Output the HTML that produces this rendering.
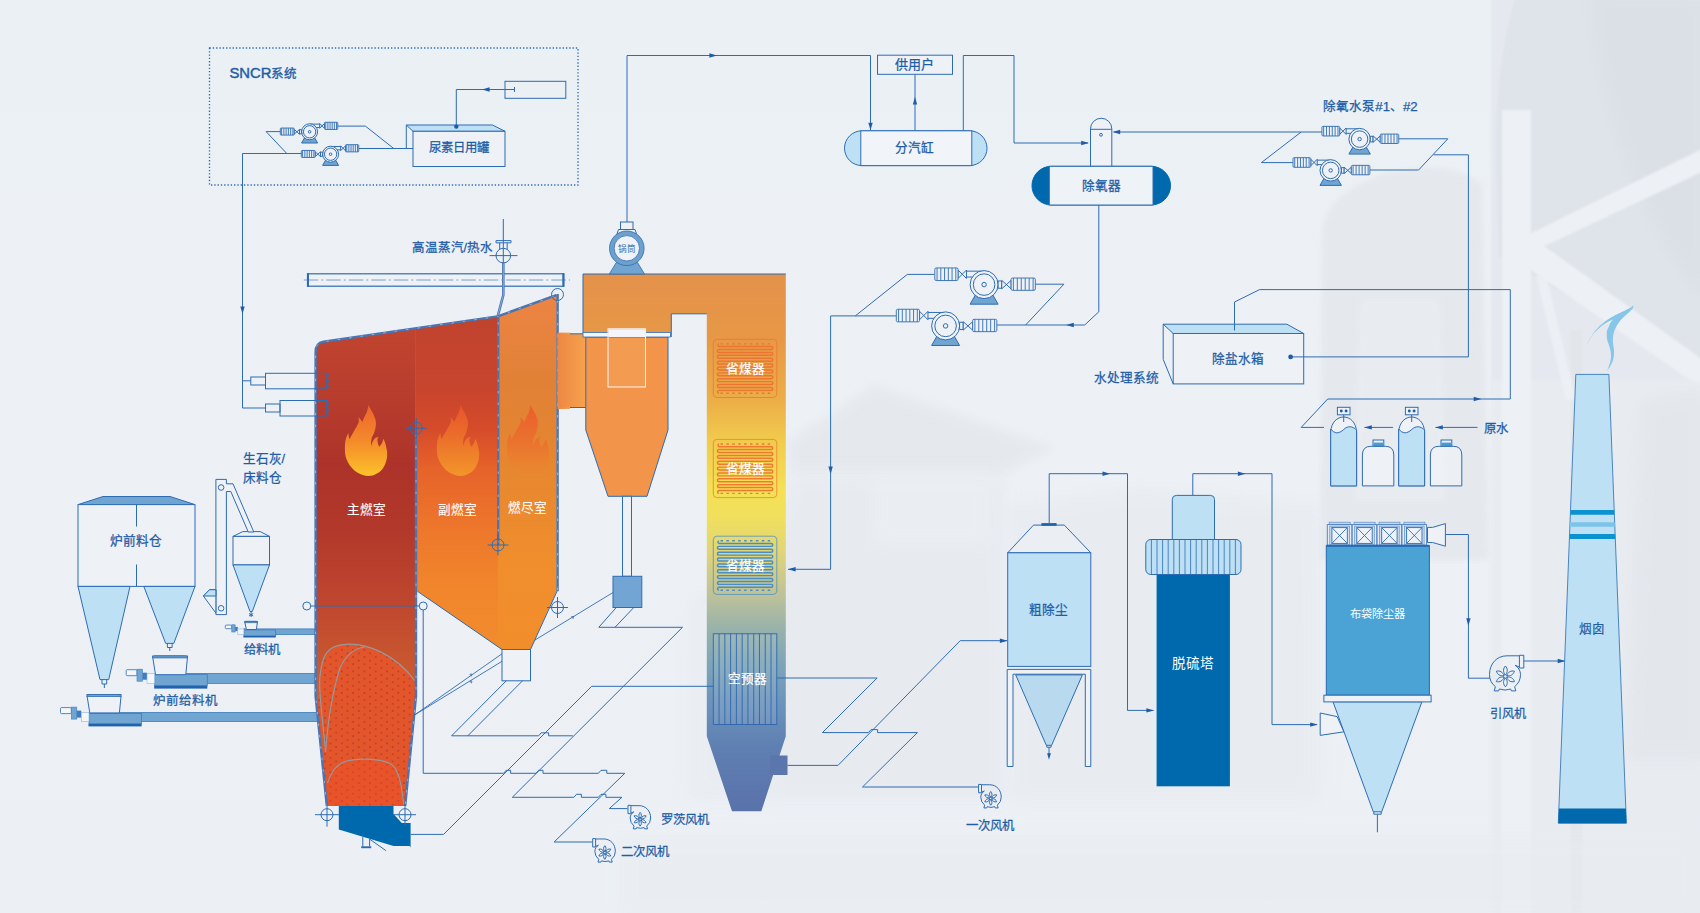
<!DOCTYPE html>
<html lang="zh-CN"><head><meta charset="utf-8"><title>CFB boiler process flow</title>
<style>
html,body{margin:0;padding:0;background:#ecf0f5;}
body{width:1700px;height:913px;overflow:hidden;position:relative;font-family:"Liberation Sans",sans-serif;}
svg{position:absolute;left:0;top:0;display:block;}
svg text{font-family:"Liberation Sans",sans-serif;}
.ln{fill:none;stroke:#2e6cb2;stroke-width:1;}
.ns *{vector-effect:non-scaling-stroke;}
</style></head><body>
<svg width="1700" height="913" viewBox="0 0 1700 913">
<defs>
<linearGradient id="gcol" gradientUnits="userSpaceOnUse" x1="0" y1="274" x2="0" y2="812">
<stop offset="0" stop-color="#e4914a"/><stop offset="0.12" stop-color="#e79846"/>
<stop offset="0.235" stop-color="#ecae48"/><stop offset="0.31" stop-color="#f1cb4d"/>
<stop offset="0.40" stop-color="#f4e055"/><stop offset="0.45" stop-color="#f1e05c"/>
<stop offset="0.52" stop-color="#dfd47a"/><stop offset="0.60" stop-color="#bcc19a"/>
<stop offset="0.66" stop-color="#97b2ab"/><stop offset="0.72" stop-color="#7fa6b8"/>
<stop offset="0.80" stop-color="#6b93bc"/><stop offset="0.88" stop-color="#5f7fb2"/>
<stop offset="1" stop-color="#5a72aa"/></linearGradient>
<linearGradient id="gmain" gradientUnits="userSpaceOnUse" x1="0" y1="320" x2="0" y2="700">
<stop offset="0" stop-color="#c1452f"/><stop offset="0.2" stop-color="#b93d2d"/>
<stop offset="0.38" stop-color="#ad332a"/><stop offset="0.55" stop-color="#b2382b"/>
<stop offset="0.74" stop-color="#bf462e"/><stop offset="0.9" stop-color="#c85730"/><stop offset="1" stop-color="#cd6031"/></linearGradient>
<linearGradient id="gsec" gradientUnits="userSpaceOnUse" x1="0" y1="316" x2="0" y2="650">
<stop offset="0" stop-color="#c0432e"/><stop offset="0.22" stop-color="#c8442d"/>
<stop offset="0.34" stop-color="#d64c2a"/><stop offset="0.46" stop-color="#e6632a"/>
<stop offset="0.62" stop-color="#ed752b"/><stop offset="0.8" stop-color="#f1852c"/>
<stop offset="1" stop-color="#f28c2c"/></linearGradient>
<linearGradient id="gburn" gradientUnits="userSpaceOnUse" x1="0" y1="295" x2="0" y2="650">
<stop offset="0" stop-color="#ed8444"/><stop offset="0.25" stop-color="#e08136"/>
<stop offset="0.5" stop-color="#e7872f"/><stop offset="0.75" stop-color="#f08e2d"/>
<stop offset="1" stop-color="#f28d2b"/></linearGradient>
<linearGradient id="gconn" x1="0" y1="0" x2="1" y2="0">
<stop offset="0" stop-color="#ee8743"/><stop offset="1" stop-color="#f6a24e"/></linearGradient>
<linearGradient id="gfl1" x1="0" y1="0" x2="0" y2="1">
<stop offset="0" stop-color="#ee642c"/><stop offset="0.5" stop-color="#f4892b"/><stop offset="1" stop-color="#fcc22a"/></linearGradient>
<linearGradient id="gfl2" x1="0" y1="0" x2="0" y2="1">
<stop offset="0" stop-color="#ee572b"/><stop offset="0.5" stop-color="#f07a2b"/><stop offset="1" stop-color="#f5a22b"/></linearGradient>
<linearGradient id="gfl3" x1="0" y1="0" x2="0" y2="1">
<stop offset="0" stop-color="#ee552b" stop-opacity="1"/><stop offset="0.55" stop-color="#ee682b" stop-opacity=".7"/><stop offset="1" stop-color="#f0862d" stop-opacity=".2"/></linearGradient>
<pattern id="dots" width="11.3" height="7.2" patternUnits="userSpaceOnUse">
<rect width="11.3" height="7.2" fill="#e3562c"/><circle cx="2.8" cy="1.8" r="1.0" fill="#ba3b29"/><circle cx="8.45" cy="5.4" r="1.0" fill="#ba3b29"/></pattern>
<g id="pump" class="ns" fill="none" stroke="#2e6cb2" stroke-width="1"><polygon points="-6,7 6,7 10,14 -10,14" fill="#6fa5d0"/><path d="M-12.6,-9.6 H0 M-12.6,-5.4 H-8"/><path d="M-18.6,-10.4 L-12.6,-4.4 V-10.4 L-18.6,-4.4 Z" fill="#eef2f7"/><rect x="-35.20" y="-11.90" width="16.60" height="9.00" rx="1" fill="#eef2f7" stroke-width=".9"/><path d="M-33.60,-11.90 V-2.90 M-30.92,-11.90 V-2.90 M-28.24,-11.90 V-2.90 M-25.56,-11.90 V-2.90 M-22.88,-11.90 V-2.90 M-20.20,-11.90 V-2.90 " stroke-width=".9"/><circle r="10" fill="#eef2f7"/><circle r="7.7"/><circle r="1.6"/><rect x="10" y="-2.6" width="2.6" height="5.2" fill="#eef2f7"/><path d="M12.6,-3 L19.3,3 V-3 L12.6,3 Z" fill="#eef2f7"/><rect x="19.30" y="-4.70" width="17.30" height="8.80" rx="1" fill="#eef2f7" stroke-width=".9"/><path d="M20.90,-4.70 V4.10 M23.72,-4.70 V4.10 M26.54,-4.70 V4.10 M29.36,-4.70 V4.10 M32.18,-4.70 V4.10 M35.00,-4.70 V4.10 " stroke-width=".9"/></g>
<g id="fan" class="ns" fill="none" stroke="#2e6cb2" stroke-width="1"><path d="M14.4,-18.7 H2 C-8.5,-18.7 -15.5,-10.5 -15.5,0 A15.5,15.5 0 0 0 -9.6,12.2 L-10.8,16.4 H-6.4 L-5.6,14.5 A15.5,15.5 0 0 0 5.6,14.5 L6.4,16.4 H10.8 L9.6,12.2 A15.5,15.5 0 0 0 15.5,0 C15.5,-4 13,-7.6 10.1,-9.2 L14.4,-7.5"/><rect x="14.4" y="-19.2" width="4.4" height="12.7" fill="#eef2f7"/><path transform="translate(0.4,1.9) rotate(0)" d="M0,-1.6 C-2.7,-4.5 -2.3,-8 0,-10.4 C2.3,-8 2.7,-4.5 0,-1.6Z"/><path transform="translate(0.4,1.9) rotate(60)" d="M0,-1.6 C-2.7,-4.5 -2.3,-8 0,-10.4 C2.3,-8 2.7,-4.5 0,-1.6Z"/><path transform="translate(0.4,1.9) rotate(120)" d="M0,-1.6 C-2.7,-4.5 -2.3,-8 0,-10.4 C2.3,-8 2.7,-4.5 0,-1.6Z"/><path transform="translate(0.4,1.9) rotate(180)" d="M0,-1.6 C-2.7,-4.5 -2.3,-8 0,-10.4 C2.3,-8 2.7,-4.5 0,-1.6Z"/><path transform="translate(0.4,1.9) rotate(240)" d="M0,-1.6 C-2.7,-4.5 -2.3,-8 0,-10.4 C2.3,-8 2.7,-4.5 0,-1.6Z"/><path transform="translate(0.4,1.9) rotate(300)" d="M0,-1.6 C-2.7,-4.5 -2.3,-8 0,-10.4 C2.3,-8 2.7,-4.5 0,-1.6Z"/><circle cx="0.4" cy="1.9" r="1.8" fill="#eef2f7"/></g>
</defs>
<defs><filter id="bl8" x="-20%" y="-20%" width="140%" height="140%"><feGaussianBlur stdDeviation="8"/></filter><filter id="bl3" x="-20%" y="-20%" width="140%" height="140%"><feGaussianBlur stdDeviation="2.5"/></filter><filter id="bl1" x="-20%" y="-20%" width="140%" height="140%"><feGaussianBlur stdDeviation="1.2"/></filter><linearGradient id="gbg" x1="0" y1="0" x2="0" y2="1"><stop offset="0" stop-color="#ebf0f5"/><stop offset="0.5" stop-color="#edf1f6"/><stop offset="1" stop-color="#ecf0f5"/></linearGradient></defs>
<rect width="1700" height="913" fill="url(#gbg)"/>
<g id="bgphoto">
<rect x="1491" y="-5" width="215" height="400" fill="#e5e9ef" filter="url(#bl1)"/>
<rect x="1491" y="380" width="215" height="540" fill="#e8ecf1" filter="url(#bl3)"/>
<path d="M1516,-5 C1502,40 1495,100 1496,160 C1497,200 1498,235 1499,257 L1706,372 L1706,-5 Z" fill="#dfe4ea" filter="url(#bl1)"/>
<path d="M1590,-5 C1600,120 1650,240 1706,300 L1706,-5 Z" fill="#d8dde4" opacity=".55" filter="url(#bl8)"/>
<path d="M1706,147 L1706,170 L1528,254 L1519,239 Z" fill="#edf0f4" filter="url(#bl1)"/>
<path d="M1528,248 L1540,243 L1706,362 L1706,384 L1690,380 L1528,268 Z" fill="#edf0f4" filter="url(#bl1)"/>
<rect x="1502" y="110" width="29" height="820" fill="#edf1f5" filter="url(#bl1)"/>
<rect x="1571" y="330" width="11" height="600" fill="#e1e5ea" opacity=".7" filter="url(#bl1)"/>
<path d="M1536,275 L1546,275 L1576,400 L1566,400 Z" fill="#eef1f5" opacity=".8" filter="url(#bl1)"/>
<path d="M1640,400 L1706,390 L1706,760 L1625,760 Z" fill="#e2e6eb" opacity=".8" filter="url(#bl8)"/>
<path d="M1322,230 C1330,170 1450,150 1482,185 L1489,560 L1320,560 Z" fill="#e4e8ed" opacity=".85" filter="url(#bl3)"/>
<path d="M1360,300 L1440,300 L1445,500 L1355,500 Z" fill="#e9edf2" opacity=".9" filter="url(#bl3)"/>
<filter id="bl5" x="-20%" y="-20%" width="140%" height="140%"><feGaussianBlur stdDeviation="5"/></filter>
<path d="M786,442 L874,385 L1056,448 L1004,474 L790,474 Z" fill="#e2e6eb" opacity=".65" filter="url(#bl5)"/>
<path d="M792,474 L1004,474 L1004,800 L760,800 L760,560 Z" fill="#e4e8ed" opacity=".6" filter="url(#bl8)"/>
<path d="M872,476 L990,476 L990,545 L872,545 Z" fill="#eef1f5" opacity=".5" filter="url(#bl8)"/>
<path d="M1010,505 L1140,488 L1320,505 L1320,800 L1010,800 Z" fill="#e5e9ee" opacity=".55" filter="url(#bl8)"/>
<path d="M690,600 L760,560 L760,800 L690,800 Z" fill="#e6eaef" opacity=".5" filter="url(#bl8)"/>
<rect x="620" y="835" width="1080" height="85" fill="#e8ecf0" opacity=".55" filter="url(#bl8)"/>
</g>
<g id="sncr">
<rect x="209.5" y="48" width="368.5" height="137" fill="none" stroke="#2e6cb2" stroke-width="1.35" stroke-dasharray="1.35 1.95"/>
<rect x="505" y="81.3" width="60.8" height="17" fill="none" stroke="#2e6cb2"/>
<path class="ln" d="M514.5,89.5 H456.3 V126.3 M514.5,87 V92"/>
<polygon points="482.0,89.5 489.6,87.3 489.6,91.7" fill="#1f5da6"/>
<polygon points="406.3,125 492.5,125 505,131.3 413,131.3" fill="#bde0f5" stroke="#2e6cb2"/>
<rect x="413" y="131.3" width="92" height="35.2" fill="#eef2f7" stroke="#2e6cb2"/>
<path class="ln" d="M406.3,125 V148.8"/>
<circle cx="456.3" cy="126.6" r="2.2" fill="#1f5da6"/>
<path class="ln" d="M281,131.6 H266.1 L286.8,153.5 M242.5,153.5 H302 M338,126.1 H365.4 L394.1,148.8 M359,148.5 H413"/>
<use href="#pump" transform="translate(309.6,131.8) scale(-0.8,0.8)"/>
<use href="#pump" transform="translate(330.6,154.2) scale(-0.8,0.8)"/>
<path class="ln" d="M242.5,153.5 V408 H265.5 M242.5,380.8 H250.8"/>
<polygon points="242.5,314.0 240.3,306.4 244.7,306.4" fill="#1f5da6"/>
</g>
<g id="silo">
<polygon points="78,504.6 103,496.5 170,496.5 195,504.6" fill="#6fa5d0" stroke="#2e6cb2"/>
<rect x="78" y="504.6" width="117" height="81.8" fill="#eef2f7" stroke="#2e6cb2"/>
<path class="ln" d="M136.5,504.6 V526.5 M136.5,564.5 V586.4"/>
<polygon points="78,586.4 130,586.4 108.7,679.6 100,679.6" fill="#bde0f5" stroke="#2e6cb2"/>
<polygon points="143.8,586.4 195,586.4 173.8,643.4 165.7,643.4" fill="#bde0f5" stroke="#2e6cb2"/>
<path class="ln" d="M102,679.6 V684 H106.7 V679.6 M104.35,684 V688 M167.4,643.4 V647.5 H172.1 V643.4 M169.75,647.5 V651"/>
</g>
<g id="elevator">
<polygon points="233,536.4 242.8,531.6 260.3,531.6 269.5,536.4" fill="#eef2f7" stroke="#2e6cb2"/>
<rect x="233" y="536.4" width="36.5" height="28.5" fill="#eef2f7" stroke="#2e6cb2"/>
<polygon points="233,564.9 269.5,564.9 252.3,611.5 250,611.5" fill="#bde0f5" stroke="#2e6cb2"/>
<path class="ln" d="M251.1,611.5 V617 M249,613.5 L253.2,616 M253.2,613.5 L249,616"/>
<path d="M215.9,479.4 H226.4 V483.8 H233 L253.8,532 H248.3 L230.8,491.5 H226.4 V614.6 H215.9 Z" fill="#eef2f7" stroke="#2e6cb2"/>
<circle cx="221.1" cy="487.5" r="2.8" fill="#eef2f7" stroke="#2e6cb2"/><circle cx="221.1" cy="608.3" r="2.8" fill="#eef2f7" stroke="#2e6cb2"/>
<polygon points="215.9,589.7 209.5,589.7 203.4,596 215.9,613.1" fill="#eef2f7" stroke="#2e6cb2"/>
<polygon points="209.5,589.7 215.9,589.7 215.9,596 203.4,596" fill="#bde0f5" stroke="#2e6cb2"/>
</g>
<g id="feeders">
<rect x="154.7" y="673.4" width="160.3" height="10.1" fill="#6fa5d0" stroke="#3f7dbd" stroke-width=".8"/><rect x="154.7" y="674.4" width="52.6" height="11.3" fill="#6fa5d0" stroke="#3f7dbd" stroke-width=".8"/><rect x="154.2" y="685.7" width="53.1" height="2.9" fill="#1f62ad"/><polygon points="152.5,655.9 187.6,655.9 185.8,674.7 155.5,674.7" fill="#eef2f7" stroke="#2e6cb2"/><path d="M152.5,657.9 L154.5,655.9 H185.6 L187.6,657.9 Z" fill="#6fa5d0" stroke="#2e6cb2" stroke-width=".8"/><rect x="126.2" y="669.7" width="10.8" height="6.0" rx="1" fill="#f4f7fa" stroke="#2e6cb2" stroke-width=".8"/><rect x="137.0" y="669.2" width="5.5" height="12.0" fill="#6fa5d0" stroke="#3f7dbd" stroke-width=".6"/><rect x="142.5" y="672.7" width="4.5" height="7.0" fill="#3f7dbd"/><rect x="147.0" y="673.4" width="7.7" height="10.1" fill="#f4f7fa" stroke="#8fb3d8" stroke-width=".6"/>
<rect x="89.0" y="712.4" width="229.4" height="9.2" fill="#6fa5d0" stroke="#3f7dbd" stroke-width=".8"/><rect x="89.0" y="713.4" width="52.6" height="10.4" fill="#6fa5d0" stroke="#3f7dbd" stroke-width=".8"/><rect x="88.5" y="723.8" width="53.1" height="2.6" fill="#1f62ad"/><polygon points="86.8,694.5 121.2,694.5 119.4,712.9 89.8,712.9" fill="#eef2f7" stroke="#2e6cb2"/><path d="M86.8,696.5 L88.8,694.5 H119.2 L121.2,696.5 Z" fill="#6fa5d0" stroke="#2e6cb2" stroke-width=".8"/><rect x="60.5" y="707.6" width="10.8" height="6.0" rx="1" fill="#f4f7fa" stroke="#2e6cb2" stroke-width=".8"/><rect x="71.3" y="707.1" width="5.5" height="12.0" fill="#6fa5d0" stroke="#3f7dbd" stroke-width=".6"/><rect x="76.8" y="710.6" width="4.5" height="7.0" fill="#3f7dbd"/><rect x="81.3" y="712.4" width="7.7" height="9.2" fill="#f4f7fa" stroke="#8fb3d8" stroke-width=".6"/>
<rect x="243.9" y="628.9" width="71.1" height="5.7" fill="#6fa5d0" stroke="#3f7dbd" stroke-width=".8"/><rect x="243.9" y="629.9" width="31.8" height="6.0" fill="#6fa5d0" stroke="#3f7dbd" stroke-width=".8"/><rect x="243.4" y="635.9" width="32.3" height="1.6" fill="#1f62ad"/><polygon points="244.6,621.4 257.5,621.4 256.4,629.5 246.4,629.5" fill="#eef2f7" stroke="#2e6cb2"/><path d="M244.6,622.6 L245.8,621.4 H256.3 L257.5,622.6 Z" fill="#6fa5d0" stroke="#2e6cb2" stroke-width=".8"/><rect x="225.3" y="625.1" width="6.5" height="3.6" rx="1" fill="#f4f7fa" stroke="#2e6cb2" stroke-width=".8"/><rect x="231.8" y="624.8" width="3.3" height="7.2" fill="#6fa5d0" stroke="#3f7dbd" stroke-width=".6"/><rect x="235.1" y="626.9" width="2.7" height="4.2" fill="#3f7dbd"/><rect x="237.8" y="628.9" width="6.1" height="5.7" fill="#f4f7fa" stroke="#8fb3d8" stroke-width=".6"/>
</g>
<g id="furnace">
<path d="M316,352 Q316,343.2 324,341.6 L415.8,328.2 V696.3 L405.5,806 H327 L316,696.3 Z" fill="url(#gmain)"/>
<path d="M415.3,328.3 L498.3,316.2 V646.9 L417.5,591.3 H415.3 Z" fill="url(#gsec)"/>
<path d="M498,316.2 L556.8,295 V591.3 L530.5,649.5 H502 L498,646.7 Z" fill="url(#gburn)"/>
<path d="M319.5,692 C319.5,664 325,648 343,644.6 C366,641.5 396,655 415.4,681 V696.3 L405.5,806 H327 L316.8,700 Z" fill="url(#dots)"/>
<path d="M327.5,783 C331,772 336,765 344,762 C356,758 378,758 390,763.5 C398,768 401,780 403.8,805 L405.5,806 H327 Z" fill="#f04e29" opacity=".35"/>
<g fill="none" stroke="#969a9c" stroke-width="1.15">
<path d="M325.5,752 C323,720 318,690 320,676 C322,655 328,646 343,644.6 C366,641.5 396,655 415,681"/>
<path d="M325.5,752 C328,720 333,690 340,668 C346,655 354,648 365,647"/>
<path d="M327.5,783 C331,772 336,765 344,762 C356,758 378,758 390,763.5 C398,768 401,780 403.8,805"/>
</g>
<path d="M368.3,405.1 C370.5,410 373.5,413 374.4,416.7 C375.8,420 376.2,422.5 375.9,424.6 C375.6,428.5 374.8,431 373.9,433.4 C372.5,436 371.5,437.5 371.5,439.3 C370.8,442 370.9,444 371.3,446.2 C371.8,444 372.2,442.5 372.9,441.3 C373.8,439.5 374.5,438.6 375.4,437.9 C376.5,437.2 377.6,436.9 378.8,436.9 C377.8,437.8 377.2,439 377.4,440.3 C377.6,443 378.2,445 379.3,446.7 C381,445 382.8,442.5 383.3,438.8 C385,441.5 385.8,444.5 386.2,447.2 C386.9,449.5 387.2,451.8 387.2,454.1 C387.2,458.5 386.2,462.5 384.3,465.9 C382.5,469.5 379.8,472.2 376.4,473.8 C374,475.2 371.3,476 368.5,476 C364.5,476 361,474.8 357.7,472.8 C353.5,470.2 350,466.5 347.8,462 C346,458.5 344.9,454.5 344.9,450.2 C344.8,447 344.9,444 345.3,441.3 C346,438 347,435.2 348.3,432.9 C348.5,435.5 349,437.5 349.8,439.3 C350.5,437 351.5,435 352.7,433.4 C354,431 355.5,428.5 356.7,426.5 C357.5,425 358.2,423.8 358.6,422.6 C359,420.8 358.8,419 358.2,417.2 C360,418.5 361.5,420 362.4,422.1 C363.5,419 365,415.5 366.5,412.7 C367.5,410.5 368.2,408 368.3,405.1 Z" fill="url(#gfl1)"/>
<path d="M368.3,405.1 C370.5,410 373.5,413 374.4,416.7 C375.8,420 376.2,422.5 375.9,424.6 C375.6,428.5 374.8,431 373.9,433.4 C372.5,436 371.5,437.5 371.5,439.3 C370.8,442 370.9,444 371.3,446.2 C371.8,444 372.2,442.5 372.9,441.3 C373.8,439.5 374.5,438.6 375.4,437.9 C376.5,437.2 377.6,436.9 378.8,436.9 C377.8,437.8 377.2,439 377.4,440.3 C377.6,443 378.2,445 379.3,446.7 C381,445 382.8,442.5 383.3,438.8 C385,441.5 385.8,444.5 386.2,447.2 C386.9,449.5 387.2,451.8 387.2,454.1 C387.2,458.5 386.2,462.5 384.3,465.9 C382.5,469.5 379.8,472.2 376.4,473.8 C374,475.2 371.3,476 368.5,476 C364.5,476 361,474.8 357.7,472.8 C353.5,470.2 350,466.5 347.8,462 C346,458.5 344.9,454.5 344.9,450.2 C344.8,447 344.9,444 345.3,441.3 C346,438 347,435.2 348.3,432.9 C348.5,435.5 349,437.5 349.8,439.3 C350.5,437 351.5,435 352.7,433.4 C354,431 355.5,428.5 356.7,426.5 C357.5,425 358.2,423.8 358.6,422.6 C359,420.8 358.8,419 358.2,417.2 C360,418.5 361.5,420 362.4,422.1 C363.5,419 365,415.5 366.5,412.7 C367.5,410.5 368.2,408 368.3,405.1 Z" fill="url(#gfl2)" opacity=".8" transform="translate(92,0)"/>
<path d="M368.3,405.1 C370.5,410 373.5,413 374.4,416.7 C375.8,420 376.2,422.5 375.9,424.6 C375.6,428.5 374.8,431 373.9,433.4 C372.5,436 371.5,437.5 371.5,439.3 C370.8,442 370.9,444 371.3,446.2 C371.8,444 372.2,442.5 372.9,441.3 C373.8,439.5 374.5,438.6 375.4,437.9 C376.5,437.2 377.6,436.9 378.8,436.9 C377.8,437.8 377.2,439 377.4,440.3 C377.6,443 378.2,445 379.3,446.7 C381,445 382.8,442.5 383.3,438.8 C385,441.5 385.8,444.5 386.2,447.2 C386.9,449.5 387.2,451.8 387.2,454.1 C387.2,458.5 386.2,462.5 384.3,465.9 C382.5,469.5 379.8,472.2 376.4,473.8 C374,475.2 371.3,476 368.5,476 C364.5,476 361,474.8 357.7,472.8 C353.5,470.2 350,466.5 347.8,462 C346,458.5 344.9,454.5 344.9,450.2 C344.8,447 344.9,444 345.3,441.3 C346,438 347,435.2 348.3,432.9 C348.5,435.5 349,437.5 349.8,439.3 C350.5,437 351.5,435 352.7,433.4 C354,431 355.5,428.5 356.7,426.5 C357.5,425 358.2,423.8 358.6,422.6 C359,420.8 358.8,419 358.2,417.2 C360,418.5 361.5,420 362.4,422.1 C363.5,419 365,415.5 366.5,412.7 C367.5,410.5 368.2,408 368.3,405.1 Z" fill="url(#gfl3)" opacity=".85" transform="translate(162,0)"/>
<g fill="none" stroke="#4a74b2" stroke-width="2.4" stroke-linejoin="round">
<path d="M326.8,806 L315.6,696.3 V352 Q315.6,343.2 323.4,341.7 L497.6,316.4 L556.3,295.2"/>
<path d="M557.6,294 V591.3"/>
<path d="M416,428 V696.3 L405.2,806"/>
<path d="M498.2,316.2 V545"/>
</g>
<g fill="none" stroke="#b4c4e0" stroke-width=".75" stroke-dasharray="2.5 9">
<path d="M326.8,806 L315.6,696.3 V352 Q315.6,343.2 323.4,341.7 L497.6,316.4 L556.3,295.2"/>
<path d="M557.6,300 V591.3"/><path d="M416,434 V696.3 L405.2,806"/><path d="M498.2,322 V545"/>
</g>
<path class="ln" d="M417.5,591.3 L502,649.5 H530.5 L557,591.3" stroke-width=".9"/>
<rect x="502" y="649.5" width="28.5" height="31.3" fill="#eef2f7" stroke="#2e6cb2"/>
<path d="M338.8,805.9 H393.5 V814.1 L401.8,823 H410.6 V847.6 L409.6,845.9 H393.5 L338.8,829.4 Z" fill="#0068ac"/>
<path class="ln" d="M362.8,837 V846.5 M369.6,839 V846.5 M370,839.4 L385.9,850.6"/>
<rect x="361.2" y="846.3" width="10" height="1.9" fill="#2e6cb2"/>
<path class="ln" stroke-width=".8" d="M326.2,373.3 L330,376 L326.2,379 L330,382 L326.2,385 L330,388 M326.2,400.5 L330,403 L326.2,406 L330,409 L326.2,412 L330,415"/>
</g>
<g id="marks">
<circle cx="416.2" cy="428.2" r="6.0" fill="none" stroke="#2e6cb2"/><path class="ln" stroke-width=".9" d="M405.7,428.2 H426.7 M416.2,417.7 V438.7"/>
<circle cx="498.0" cy="545.0" r="6.0" fill="none" stroke="#2e6cb2"/><path class="ln" stroke-width=".9" d="M487.5,545.0 H508.5 M498.0,534.5 V555.5"/>
<circle cx="557.5" cy="607.5" r="6.0" fill="none" stroke="#2e6cb2"/><path class="ln" stroke-width=".9" d="M547.0,607.5 H568.0 M557.5,597.0 V618.0"/>
<circle cx="327.0" cy="814.7" r="6.0" fill="none" stroke="#2e6cb2"/><path class="ln" stroke-width=".9" d="M315.0,814.7 H339.0 M327.0,802.7 V826.7"/>
<circle cx="405.0" cy="814.7" r="6.0" fill="none" stroke="#2e6cb2"/><path class="ln" stroke-width=".9" d="M394.0,814.7 H416.0 M405.0,803.7 V825.7"/>
<circle cx="557.5" cy="294.5" r="6" fill="none" stroke="#2e6cb2"/>
<path class="ln" d="M310.8,606 H419.2" stroke-width=".8"/>
<circle cx="306.8" cy="606" r="4" fill="#eef2f7" stroke="#2e6cb2"/><circle cx="423.2" cy="606" r="4" fill="#eef2f7" stroke="#2e6cb2"/>
</g>
<g id="beam">
<rect x="307.5" y="273.8" width="256.3" height="12.4" fill="#eef2f7" stroke="#2e6cb2" stroke-width="1.2"/>
<rect x="307" y="273.2" width="2" height="13.6" fill="#2e6cb2"/><rect x="562.3" y="273.2" width="2" height="13.6" fill="#2e6cb2"/>
<path class="ln" d="M303.8,280 H570" stroke-width=".5" stroke-dasharray="14.5 3 2 3" opacity=".6"/>
<path class="ln" d="M503.3,219 V263 M496,240.6 H511 V242.8 H496 Z M499.7,242.8 V249.5 M507.2,242.8 V249.5 M489.5,255.6 H517.5"/>
<circle cx="503.3" cy="255.6" r="7.3" fill="none" stroke="#2e6cb2"/>
<path d="M503.3,262.5 V295 L497.8,316" fill="none" stroke="#4a74b2" stroke-width="2.6"/>
<path d="M503.3,263.5 V295 L498,315" fill="none" stroke="#9db8de" stroke-width=".8"/>
</g>
<g id="backpass">
<rect x="557.6" y="332.6" width="12.4" height="76.4" fill="url(#gconn)"/>
<rect x="557.6" y="333.8" width="28.2" height="73.7" fill="url(#gconn)"/>
<path class="ln" d="M570,333.8 H585.8 M570,407.5 H585.8" stroke-width=".8"/>
<path d="M583,274 H785.8 V736.3 L761.3,811.3 H732 L706.8,736.3 V313.8 H671.3 V332.5 H583 Z" fill="url(#gcol)"/>
<path class="ln" d="M583,332.5 V274 H785.8 M671.3,337 V313.8 H706.8" stroke-width="1"/>
<rect x="770" y="755.5" width="17.5" height="19.5" fill="#5b75ad"/>
<path d="M585.8,337 H668 V430 L647,496.3 H608 L585.8,430 Z" fill="#f2954b" stroke="#2e6cb2"/>
<rect x="583" y="332.5" width="87.5" height="4.5" fill="#f3f5f8" stroke="#2e6cb2" stroke-width=".8"/>
<rect x="608" y="328.8" width="37.5" height="58.2" fill="#f6a55c" fill-opacity=".35" stroke="#f4f6f9" stroke-width="1"/>
<rect x="608.5" y="329.3" width="36.5" height="7.7" fill="#f3f5f8"/>
<rect x="622.5" y="496.3" width="9" height="80" fill="#eef2f7" stroke="#2e6cb2"/>
<rect x="613" y="576.3" width="28.8" height="31.2" fill="#72a5d3" stroke="#2e6cb2"/>
<g fill="none" stroke="#ec7531"><rect x="713.3" y="339.3" width="63.5" height="58.2" rx="3.6" stroke-width=".9" opacity=".85"/><path d="M720.5,343.9 H772 M720.5,393.3 H772" stroke-width="1.4" stroke-dasharray="2.5 3.4"/><path d="M718.90,343.90 A1.46,1.46 0 0 0 718.90,346.55 H771.30 A1.46,1.46 0 0 1 771.30,349.47 H718.90 A1.46,1.46 0 0 0 718.90,352.40 H771.30 A1.46,1.46 0 0 1 771.30,355.32 H718.90 A1.46,1.46 0 0 0 718.90,358.24 H771.30 A1.46,1.46 0 0 1 771.30,361.17 H718.90 A1.46,1.46 0 0 0 718.90,364.09 H771.30 A1.46,1.46 0 0 1 771.30,367.01 H718.90 A1.46,1.46 0 0 0 718.90,369.93 H771.30 A1.46,1.46 0 0 1 771.30,372.86 H718.90 A1.46,1.46 0 0 0 718.90,375.78 H771.30 A1.46,1.46 0 0 1 771.30,378.70 H718.90 A1.46,1.46 0 0 0 718.90,381.63 H771.30 A1.46,1.46 0 0 1 771.30,384.55 H718.90 A1.46,1.46 0 0 0 718.90,387.47 H771.30 A1.46,1.46 0 0 1 771.30,390.39 H718.90 A1.46,1.46 0 0 0 718.90,393.30" stroke-width="1.45"/></g>
<g fill="none" stroke="#ee7a30"><rect x="713.3" y="439.4" width="63.5" height="58.2" rx="3.6" stroke-width=".9" opacity=".85"/><path d="M720.5,444.0 H772 M720.5,493.4 H772" stroke-width="1.4" stroke-dasharray="2.5 3.4"/><path d="M718.90,444.00 A1.46,1.46 0 0 0 718.90,446.65 H771.30 A1.46,1.46 0 0 1 771.30,449.57 H718.90 A1.46,1.46 0 0 0 718.90,452.50 H771.30 A1.46,1.46 0 0 1 771.30,455.42 H718.90 A1.46,1.46 0 0 0 718.90,458.34 H771.30 A1.46,1.46 0 0 1 771.30,461.26 H718.90 A1.46,1.46 0 0 0 718.90,464.19 H771.30 A1.46,1.46 0 0 1 771.30,467.11 H718.90 A1.46,1.46 0 0 0 718.90,470.03 H771.30 A1.46,1.46 0 0 1 771.30,472.96 H718.90 A1.46,1.46 0 0 0 718.90,475.88 H771.30 A1.46,1.46 0 0 1 771.30,478.80 H718.90 A1.46,1.46 0 0 0 718.90,481.73 H771.30 A1.46,1.46 0 0 1 771.30,484.65 H718.90 A1.46,1.46 0 0 0 718.90,487.57 H771.30 A1.46,1.46 0 0 1 771.30,490.50 H718.90 A1.46,1.46 0 0 0 718.90,493.40" stroke-width="1.45"/></g>
<g fill="none" stroke="#4a8ec6"><rect x="713.3" y="536.2" width="63.5" height="58.2" rx="3.6" stroke-width=".9" opacity=".85"/><path d="M720.5,540.8 H772 M720.5,590.2 H772" stroke-width="1.4" stroke-dasharray="2.5 3.4"/><path d="M718.90,540.80 A1.46,1.46 0 0 0 718.90,543.45 H771.30 A1.46,1.46 0 0 1 771.30,546.37 H718.90 A1.46,1.46 0 0 0 718.90,549.30 H771.30 A1.46,1.46 0 0 1 771.30,552.22 H718.90 A1.46,1.46 0 0 0 718.90,555.14 H771.30 A1.46,1.46 0 0 1 771.30,558.07 H718.90 A1.46,1.46 0 0 0 718.90,560.99 H771.30 A1.46,1.46 0 0 1 771.30,563.91 H718.90 A1.46,1.46 0 0 0 718.90,566.83 H771.30 A1.46,1.46 0 0 1 771.30,569.76 H718.90 A1.46,1.46 0 0 0 718.90,572.68 H771.30 A1.46,1.46 0 0 1 771.30,575.60 H718.90 A1.46,1.46 0 0 0 718.90,578.53 H771.30 A1.46,1.46 0 0 1 771.30,581.45 H718.90 A1.46,1.46 0 0 0 718.90,584.37 H771.30 A1.46,1.46 0 0 1 771.30,587.30 H718.90 A1.46,1.46 0 0 0 718.90,590.20" stroke-width="1.45"/></g>
<rect x="713.3" y="633.8" width="63.5" height="90.7" fill="#ffffff" fill-opacity=".1" stroke="#2f66ad" stroke-width=".9"/>
<path d="M719.07,633.8 V724.5 M724.85,633.8 V724.5 M730.62,633.8 V724.5 M736.39,633.8 V724.5 M742.16,633.8 V724.5 M747.94,633.8 V724.5 M753.71,633.8 V724.5 M759.48,633.8 V724.5 M765.25,633.8 V724.5 M771.03,633.8 V724.5 " fill="none" stroke="#2f66ad" stroke-width=".9"/>
</g>
<g id="drum">
<polygon points="609.3,274 644.5,274 637.5,262.5 616.3,262.5" fill="#6fa5d0" stroke="#2e6cb2" stroke-width=".8"/>
<rect x="620.5" y="222" width="12.5" height="7.5" fill="#eef2f7" stroke="#2e6cb2"/>
<path d="M617,233.8 L618.5,229.5 H635 L636.5,233.8 Z" fill="#eef2f7" stroke="#2e6cb2"/>
<circle cx="626.8" cy="248.3" r="17.3" fill="#6ca0cd" stroke="#2e6cb2" stroke-width=".8"/>
<circle cx="626.8" cy="248.3" r="12.7" fill="#eff3f8" stroke="#2e6cb2" stroke-width=".8"/>
</g>
<g id="burners">
<rect x="250.8" y="377" width="14.7" height="8" fill="none" stroke="#2e6cb2"/>
<rect x="265.5" y="373.3" width="60.7" height="15.5" fill="none" stroke="#2e6cb2"/>
<rect x="265.5" y="404" width="14.5" height="8" fill="none" stroke="#2e6cb2"/>
<rect x="280" y="400.5" width="46.2" height="15.5" fill="none" stroke="#2e6cb2"/>
</g>
<g id="pipes" fill="none" stroke="#2e6cb2" stroke-width="1">
<path d="M410.6,834.4 H443.6 L591.7,686.3 H713.3"/>
<path d="M423.2,610 V773.3"/>
<path d="M423.2,773.3 H503.6 L506.2,770.3 H510.6 V773.3 H536.0 L538.6,770.3 H543.0 V773.3 H598.4 L601.0,770.3 H606.8 V773.3 H624.8 L554.1,842 H592.5"/>
<path d="M627.5,808.6 H609.3 L621.9,797.3"/>
<path d="M512.3,797.3 H573.9 L576.5,794.3 H581.4 V797.3 H598.4 L601.0,794.3 H605.9 V797.3 H621.9"/>
<path d="M512.3,797.3 L682.5,627.3 H598.8 L616.3,607.5 M615,627.3 L633.8,607.5"/>
<path d="M451.6,735.8 H538.6 L541.2,732.8 H548.6 V735.8 H572.8"/>
<path d="M451.6,735.8 L506.3,680.8 M467.8,735.8 L522.5,680.8"/>
<path d="M502,653.8 L414.5,715 L502,661.3" stroke-width=".9"/>
<path d="M535,640 L613,592.5" stroke-width=".9"/>
<path d="M469.8,674.2 l2.2,-.2 l-.6,2.2 Z M469.8,681.2 l2.2,-.2 l-.6,2.2 Z M571.5,616.6 l2.2,-.2 l-.6,2.2 Z" stroke-width=".7"/>
<path d="M776.8,678 H877.1 L822.4,732.6  H868.4 L871.0,729.6 H877.6 V732.6 H917.4 L862.5,787 H978.2"/>
<path d="M787.5,765.4 H838 L960.2,640.7 H1007"/>
<path d="M830.6,316 V569.3 H788"/>
</g>
<polygon points="1007.5,640.7 999.9,638.5 999.9,642.9" fill="#1f5da6"/>
<polygon points="830.6,474.0 828.4,466.4 832.8,466.4" fill="#1f5da6"/>
<polygon points="788.0,569.3 795.6,567.1 795.6,571.5" fill="#1f5da6"/>
<use href="#fan" transform="translate(640.4,818) scale(-0.66,0.66)"/>
<use href="#fan" transform="translate(605.1,851.3) scale(-0.66,0.66)"/>
<use href="#fan" transform="translate(991,797.1) scale(-0.66,0.66)"/>
<g id="top" fill="none" stroke="#2e6cb2" stroke-width="1">
<path d="M627,222 V55.5 H870.5 V130.5"/>
<rect x="877.5" y="55.2" width="75" height="19.1" fill="#eef2f7"/>
<path d="M915,130.8 V74.3"/>
<path d="M963.3,130.8 V55.5 H1014 V143 H1088"/>
<rect x="844.5" y="130.8" width="142.5" height="34.8" rx="17.4" fill="#bde0f5"/>
<rect x="860.8" y="130.8" width="111" height="34.8" fill="#f1f5fa"/>
<path d="M1090.5,166.3 V128.9 A10.6,10.6 0 0 1 1111.8,128.9 V166.3 M1090.5,129.3 H1111.8" fill="#eef2f7"/>
<circle cx="1101" cy="134.8" r="1.4"/>
<rect x="1032" y="166.3" width="138.5" height="38.7" rx="19.3" fill="#0068ac" stroke="#0068ac"/>
<rect x="1049.3" y="166.3" width="103.7" height="38.7" fill="#eef3f8"/>
<path d="M1113.8,132 H1322.5"/>
<path d="M1098.8,205 V311.8 L1084.7,325 H997"/>
<path d="M1035.4,284.2 H1063.9 L1025.6,325 M934.6,274.4 H907.3 L855.3,315.9 M830.6,315.9 H896"/>
<path d="M1301.2,132 L1261.4,162.6 H1293 M1398.6,138.8 H1447.8 L1418.6,170 H1369.4 M1433.6,154.8 H1468.4 V356.9 H1303.7"/>
</g>
<polygon points="717.0,55.5 709.4,53.3 709.4,57.7" fill="#1f5da6"/>
<polygon points="870.5,130.3 868.3,122.7 872.7,122.7" fill="#1f5da6"/>
<polygon points="915.0,97.0 912.8,104.6 917.2,104.6" fill="#1f5da6"/>
<polygon points="1088.8,143.0 1081.2,140.8 1081.2,145.2" fill="#1f5da6"/>
<polygon points="1112.6,132.0 1120.2,129.8 1120.2,134.2" fill="#1f5da6"/>
<polygon points="1066.2,325.0 1073.8,322.8 1073.8,327.2" fill="#1f5da6"/>
<use href="#pump" transform="translate(984.1,284.6) scale(1.4)"/>
<use href="#pump" transform="translate(945.6,325.9) scale(1.4)"/>
<use href="#pump" transform="translate(1359.6,139.1) scale(1.07)"/>
<use href="#pump" transform="translate(1330.7,170.4) scale(1.07)"/>
<g id="water" fill="none" stroke="#2e6cb2" stroke-width="1">
<path d="M1234.5,330.5 V302 L1259.6,289.6 H1510.3 V399 H1327.7 L1301.2,427.4 H1324"/>
<polygon points="1163.2,324.2 1286.9,324.2 1303.7,333.5 1173.2,333.5" fill="#bde0f5"/>
<rect x="1173.2" y="333.5" width="130.5" height="50.4" fill="#eef2f7"/>
<path d="M1163.2,324.2 V359.4 L1173.2,383.9"/>
<path d="M1234.5,330.5 V324.2"/>
<path d="M1330.7,485.9 V432 C1331.7,412 1355.6,412 1356.6,432 V485.9 Z" fill="#eef2f7"/><path d="M1330.7,485.9 V429 C1334.7,434 1338.7,434 1343.7,429.5 C1347.7,425.5 1352.7,426 1356.6,430 V485.9 Z" fill="#bde0f5"/><rect x="1337.4" y="407.3" width="12.6" height="7.5" fill="#eef2f7"/><path d="M1343.7,414.8 V422"/><circle cx="1341.3" cy="411" r="1.45" fill="#1f5da6" stroke="none"/><circle cx="1346.1" cy="411" r="1.45" fill="#1f5da6" stroke="none"/>
<rect x="1373.0" y="440" width="10.8" height="6.3" fill="#eef2f7"/><rect x="1373.5" y="442.6" width="9.8" height="3.4" fill="#4a9ad4" stroke="none"/><path d="M1362.4,485.9 V455 Q1362.4,446.3 1370.9,446.3 H1385.3 Q1393.8,446.3 1393.8,455 V485.9 Z" fill="#f3f6fa" fill-opacity=".55"/>
<path d="M1398.7,485.9 V432 C1399.7,412 1423.6,412 1424.6,432 V485.9 Z" fill="#eef2f7"/><path d="M1398.7,485.9 V429 C1402.7,434 1406.7,434 1411.7,429.5 C1415.7,425.5 1420.7,426 1424.6,430 V485.9 Z" fill="#bde0f5"/><rect x="1405.4" y="407.3" width="12.6" height="7.5" fill="#eef2f7"/><path d="M1411.7,414.8 V422"/><circle cx="1409.3" cy="411" r="1.45" fill="#1f5da6" stroke="none"/><circle cx="1414.1" cy="411" r="1.45" fill="#1f5da6" stroke="none"/>
<rect x="1441.0" y="440" width="10.8" height="6.3" fill="#eef2f7"/><rect x="1441.5" y="442.6" width="9.8" height="3.4" fill="#4a9ad4" stroke="none"/><path d="M1430.4,485.9 V455 Q1430.4,446.3 1438.9,446.3 H1453.3 Q1461.8,446.3 1461.8,455 V485.9 Z" fill="#f3f6fa" fill-opacity=".55"/>
<path d="M1364.5,427.4 H1393 M1435.5,427.4 H1477.5"/>
</g>
<path class="ln" d="M1290.6,356.9 H1304"/>
<circle cx="1290.6" cy="356.9" r="2.4" fill="#1f5da6"/>
<polygon points="1481.3,399.0 1473.7,396.8 1473.7,401.2" fill="#1f5da6"/>
<polygon points="1364.2,427.4 1371.8,425.2 1371.8,429.6" fill="#1f5da6"/>
<polygon points="1435.2,427.4 1442.8,425.2 1442.8,429.6" fill="#1f5da6"/>
<g id="dust" fill="none" stroke="#2e6cb2" stroke-width="1">
<path d="M1049.2,523 V473.7 H1127.5 V710.4 H1153.5"/>
<polygon points="1007.7,552.8 1033.5,525.1 1064.3,525.1 1090.8,552.8" fill="#eef2f6" fill-opacity=".5"/>
<rect x="1007.7" y="552.8" width="83.1" height="113.6" fill="#bde0f5"/>
<rect x="1041.4" y="523.1" width="15.2" height="2.7" fill="#1f62ad" stroke="none"/>
<path d="M1007.2,766.5 V669.4 H1090.8 V766.5 H1085.3 V674.2 H1013 V766.5 Z" fill="#eef2f7"/>
<polygon points="1015.7,674.9 1082.4,674.9 1051.6,745.3 1046.3,745.3" fill="#b9d9ee"/>
<path d="M1046.8,745.3 V747.2 H1051.1 V745.3 M1049,747.2 V754"/>
<path d="M1192.8,495.4 V473.7 H1272 V724.6 H1317"/>
<path d="M1172.3,539.5 V499.4 Q1172.3,495.4 1176.3,495.4 H1210.5 Q1214.5,495.4 1214.5,499.4 V539.5 Z" fill="#bde0f5"/>
<rect x="1156.6" y="574" width="73.3" height="212.3" fill="#0068ac" stroke="none"/>
<rect x="1145.8" y="539.5" width="95.2" height="35" rx="5" fill="#bde0f5"/>
<path d="M1151.40,539.5 V574.5 M1157.00,539.5 V574.5 M1162.60,539.5 V574.5 M1168.20,539.5 V574.5 M1173.80,539.5 V574.5 M1179.40,539.5 V574.5 M1185.00,539.5 V574.5 M1190.60,539.5 V574.5 M1196.20,539.5 V574.5 M1201.80,539.5 V574.5 M1207.40,539.5 V574.5 M1213.00,539.5 V574.5 M1218.60,539.5 V574.5 M1224.20,539.5 V574.5 M1229.80,539.5 V574.5 M1235.40,539.5 V574.5 " stroke-width=".8"/>
<path d="M1445.5,534.5 H1468.4 V678.2 H1490"/>
<path d="M1427.5,527.4 H1432.6 L1445.4,523.6 V546.2 L1432.6,542.5 H1427.5 Z" fill="#eef2f7"/>
<rect x="1329.2" y="522.2" width="21" height="2.6" fill="#c5d6ed" stroke="#5b8ec8" stroke-width=".7"/>
<rect x="1327.3" y="524.6" width="24.6" height="20.6" fill="#e4ebf5" stroke="#4a7ec0" stroke-width=".9"/>
<rect x="1329.8" y="526.1" width="19.6" height="18.6" fill="#d3dff0" stroke="#5b8ec8" stroke-width=".7"/>
<rect x="1331.9" y="527.6" width="15.4" height="15.8" fill="#eef2f7" stroke-width=".9"/>
<path d="M1331.9,527.6 l15.4,15.8 M1347.3,527.6 l-15.4,15.8" stroke-width=".9"/>
<rect x="1354.1" y="522.2" width="21" height="2.6" fill="#c5d6ed" stroke="#5b8ec8" stroke-width=".7"/>
<rect x="1352.2" y="524.6" width="24.6" height="20.6" fill="#e4ebf5" stroke="#4a7ec0" stroke-width=".9"/>
<rect x="1354.7" y="526.1" width="19.6" height="18.6" fill="#d3dff0" stroke="#5b8ec8" stroke-width=".7"/>
<rect x="1356.8" y="527.6" width="15.4" height="15.8" fill="#eef2f7" stroke-width=".9"/>
<path d="M1356.8,527.6 l15.4,15.8 M1372.2,527.6 l-15.4,15.8" stroke-width=".9"/>
<rect x="1379.0" y="522.2" width="21" height="2.6" fill="#c5d6ed" stroke="#5b8ec8" stroke-width=".7"/>
<rect x="1377.1" y="524.6" width="24.6" height="20.6" fill="#e4ebf5" stroke="#4a7ec0" stroke-width=".9"/>
<rect x="1379.6" y="526.1" width="19.6" height="18.6" fill="#d3dff0" stroke="#5b8ec8" stroke-width=".7"/>
<rect x="1381.7" y="527.6" width="15.4" height="15.8" fill="#eef2f7" stroke-width=".9"/>
<path d="M1381.7,527.6 l15.4,15.8 M1397.1,527.6 l-15.4,15.8" stroke-width=".9"/>
<rect x="1403.9" y="522.2" width="21" height="2.6" fill="#c5d6ed" stroke="#5b8ec8" stroke-width=".7"/>
<rect x="1402.0" y="524.6" width="24.6" height="20.6" fill="#e4ebf5" stroke="#4a7ec0" stroke-width=".9"/>
<rect x="1404.5" y="526.1" width="19.6" height="18.6" fill="#d3dff0" stroke="#5b8ec8" stroke-width=".7"/>
<rect x="1406.6" y="527.6" width="15.4" height="15.8" fill="#eef2f7" stroke-width=".9"/>
<path d="M1406.6,527.6 l15.4,15.8 M1422.0,527.6 l-15.4,15.8" stroke-width=".9"/>
<rect x="1326.3" y="545.8" width="103.1" height="149.4" fill="#4aa3d4" stroke="#2a6ab0"/>
<rect x="1326.3" y="544.8" width="103.1" height="2" fill="#2a6ab0" stroke="none"/>
<path d="M1320.2,713 V735.4 L1343.9,731.8 L1337.1,716.6 Z" fill="#eef2f7"/>
<polygon points="1333,701.8 1421.9,701.8 1381.7,811.8 1373.3,811.8" fill="#bde0f5"/>
<rect x="1323.9" y="695.2" width="107.2" height="6.7" fill="#eef2f7"/>
<path d="M1373.8,811.8 V814.2 H1381.2 V811.8 M1377.4,814.2 V832.3"/>
<path d="M1523.8,661 H1565"/>
</g>
<polygon points="1110.1,473.7 1102.5,471.5 1102.5,475.9" fill="#1f5da6"/>
<polygon points="1154.0,710.4 1146.4,708.2 1146.4,712.6" fill="#1f5da6"/>
<polygon points="1245.5,473.7 1237.9,471.5 1237.9,475.9" fill="#1f5da6"/>
<polygon points="1317.8,724.6 1310.2,722.4 1310.2,726.8" fill="#1f5da6"/>
<polygon points="1049.0,759.8 1047.1,753.3 1050.9,753.3" fill="#1f5da6"/>
<polygon points="1468.4,625.8 1466.2,618.2 1470.6,618.2" fill="#1f5da6"/>
<polygon points="1565.3,661.0 1557.7,658.8 1557.7,663.2" fill="#1f5da6"/>
<use href="#fan" transform="translate(1505,674.5)"/>
<g id="chimney">
<polygon points="1575.8,374.4 1608.9,374.4 1626.4,823.2 1558.3,823.2" fill="#bde0f5" stroke="#3a78bb" stroke-width=".9"/>
<polygon points="1570.5,509.9 1614.2,509.9 1614.4,514.8 1570.3,514.8" fill="#0a93d0"/>
<polygon points="1570.0,522.2 1614.7,522.2 1614.8,526.8 1569.9,526.8" fill="#7cc4e8"/>
<polygon points="1569.6,533.9 1615.1,533.9 1615.3,539.1 1569.4,539.1" fill="#0a93d0"/>
<polygon points="1558.9,808.5 1625.8,808.5 1626.4,823.2 1558.3,823.2" fill="#0068ac"/>
<path d="M1633.5,305.3 C1630,309 1620,312.5 1613.3,316.2 C1606,320 1598,326.5 1593.6,332.9 C1590.5,337 1588.3,341.5 1586.7,345.7 C1590,338 1594,332.5 1597.6,329.5 C1602,325 1608,321.5 1613.3,319.6 C1610.5,322 1609.5,324.5 1608.9,326.5 C1607.2,329 1606.5,331.8 1606.7,334.4 C1606.7,337.5 1607.2,340 1607.9,342.3 C1609,345.5 1610,348 1610.4,350.2 C1611,353 1611.2,355.5 1610.9,358.1 C1610.6,361 1610,363.5 1608.9,365.9 C1608.2,368 1607.4,369.8 1606.5,371.4 C1608.5,369 1610.2,366.6 1611.4,364 C1612.8,361.5 1613.6,358.8 1613.8,356.1 C1614.2,353.5 1614.2,350.8 1613.8,348.2 C1613.4,345.8 1613,343.5 1612.9,341.3 C1612.8,339 1612.9,336.6 1613.3,334.4 C1614,331.5 1615,329 1616.3,326.5 C1618,323.5 1620,321 1622.2,318.6 C1624.5,316.2 1626.8,314 1629.1,312.2 C1631.5,310 1633.8,308 1633.5,305.3 Z" fill="#86c6e8"/>
</g>
<g id="labels">
<text x="229.5" y="77.5" fill="#1f5da6" stroke="#1f5da6" stroke-width=".35"><tspan font-size="14.8" stroke-width=".45">SNCR</tspan><tspan font-size="12.5">系统</tspan></text>
<text x="458.5" y="152.3" font-size="12.4" text-anchor="middle" fill="#1f5da6" stroke="#1f5da6" stroke-width="0.26" >尿素日用罐</text>
<text x="452.3" y="251.5" font-size="12.5" text-anchor="middle" fill="#1f5da6" stroke="#1f5da6" stroke-width="0.26" >高温蒸汽/热水</text>
<text x="626.8" y="251.5" font-size="8.6" text-anchor="middle" fill="#3a6fb0" >锅筒</text>
<text x="914.8" y="69.3" font-size="13" text-anchor="middle" fill="#1f5da6" stroke="#1f5da6" stroke-width="0.26" >供用户</text>
<text x="914.5" y="152.3" font-size="12.6" text-anchor="middle" fill="#1f5da6" stroke="#1f5da6" stroke-width="0.26" >分汽缸</text>
<text x="1101.3" y="189.7" font-size="12.6" text-anchor="middle" fill="#1f5da6" stroke="#1f5da6" stroke-width="0.26" >除氧器</text>
<text x="1323.3" y="111.2" fill="#1f5da6" stroke="#1f5da6" stroke-width=".3" font-size="12.5">除氧水泵<tspan font-size="13.2" stroke-width=".25">#1</tspan>、<tspan font-size="13.2" stroke-width=".25">#2</tspan></text>
<text x="1238.2" y="362.7" font-size="12.6" text-anchor="middle" fill="#1f5da6" stroke="#1f5da6" stroke-width="0.26" >除盐水箱</text>
<text x="1126.5" y="381.5" font-size="12.6" text-anchor="middle" fill="#1f5da6" stroke="#1f5da6" stroke-width="0.26" >水处理系统</text>
<text x="1496.0" y="432.7" font-size="12.4" text-anchor="middle" fill="#1f5da6" stroke="#1f5da6" stroke-width="0.26" >原水</text>
<text x="745.6" y="372.5" font-size="12.6" text-anchor="middle" fill="#ffffff" stroke="#ffffff" stroke-width="0.2" >省煤器</text>
<text x="745.6" y="473.3" font-size="12.6" text-anchor="middle" fill="#ffffff" stroke="#ffffff" stroke-width="0.2" >省煤器</text>
<text x="745.6" y="570.0" font-size="12.6" text-anchor="middle" fill="#ffffff" stroke="#ffffff" stroke-width="0.2" >省煤器</text>
<text x="747.5" y="683.3" font-size="12.6" text-anchor="middle" fill="#ffffff" stroke="#ffffff" stroke-width="0.2" >空预器</text>
<text x="366.3" y="513.8" font-size="12.6" text-anchor="middle" fill="#ffffff" stroke="#ffffff" stroke-width="0.1" >主燃室</text>
<text x="457.0" y="513.8" font-size="12.6" text-anchor="middle" fill="#ffffff" stroke="#ffffff" stroke-width="0.1" >副燃室</text>
<text x="527.0" y="512.0" font-size="12.6" text-anchor="middle" fill="#ffffff" stroke="#ffffff" stroke-width="0.1" >燃尽室</text>
<text x="242.6" y="463.3" font-size="12.6" text-anchor="start" fill="#1f5da6" stroke="#1f5da6" stroke-width="0.26" >生石灰/</text>
<text x="242.6" y="481.9" font-size="12.6" text-anchor="start" fill="#1f5da6" stroke="#1f5da6" stroke-width="0.26" >床料仓</text>
<text x="135.9" y="545.4" font-size="12.7" text-anchor="middle" fill="#1f5da6" stroke="#1f5da6" stroke-width="0.26" >炉前料仓</text>
<text x="243.5" y="653.8" font-size="12.4" text-anchor="start" fill="#1f5da6" stroke="#1f5da6" stroke-width="0.26" >给料机</text>
<text x="152.8" y="704.9" font-size="12.5" text-anchor="start" fill="#1f5da6" stroke="#1f5da6" stroke-width="0.26" >炉前给料机</text>
<text x="660.8" y="824.3" font-size="12.4" text-anchor="start" fill="#1f5da6" stroke="#1f5da6" stroke-width="0.26" >罗茨风机</text>
<text x="620.6" y="855.7" font-size="12.4" text-anchor="start" fill="#1f5da6" stroke="#1f5da6" stroke-width="0.26" >二次风机</text>
<text x="966.0" y="829.8" font-size="12.4" text-anchor="start" fill="#1f5da6" stroke="#1f5da6" stroke-width="0.26" >一次风机</text>
<text x="1048.7" y="613.9" font-size="12.6" text-anchor="middle" fill="#1f5da6" stroke="#1f5da6" stroke-width="0.26" >粗除尘</text>
<text x="1193.3" y="667.6" font-size="13.6" text-anchor="middle" fill="#ffffff" >脱硫塔</text>
<text x="1377.5" y="617.7" font-size="11.2" text-anchor="middle" fill="#ffffff" >布袋除尘器</text>
<text x="1508.2" y="717.7" font-size="12.2" text-anchor="middle" fill="#1f5da6" stroke="#1f5da6" stroke-width="0.26" >引风机</text>
<text x="1592.0" y="632.6" font-size="12.6" text-anchor="middle" fill="#1f5da6" stroke="#1f5da6" stroke-width="0.15" >烟囱</text>
</g>
</svg>
</body></html>
